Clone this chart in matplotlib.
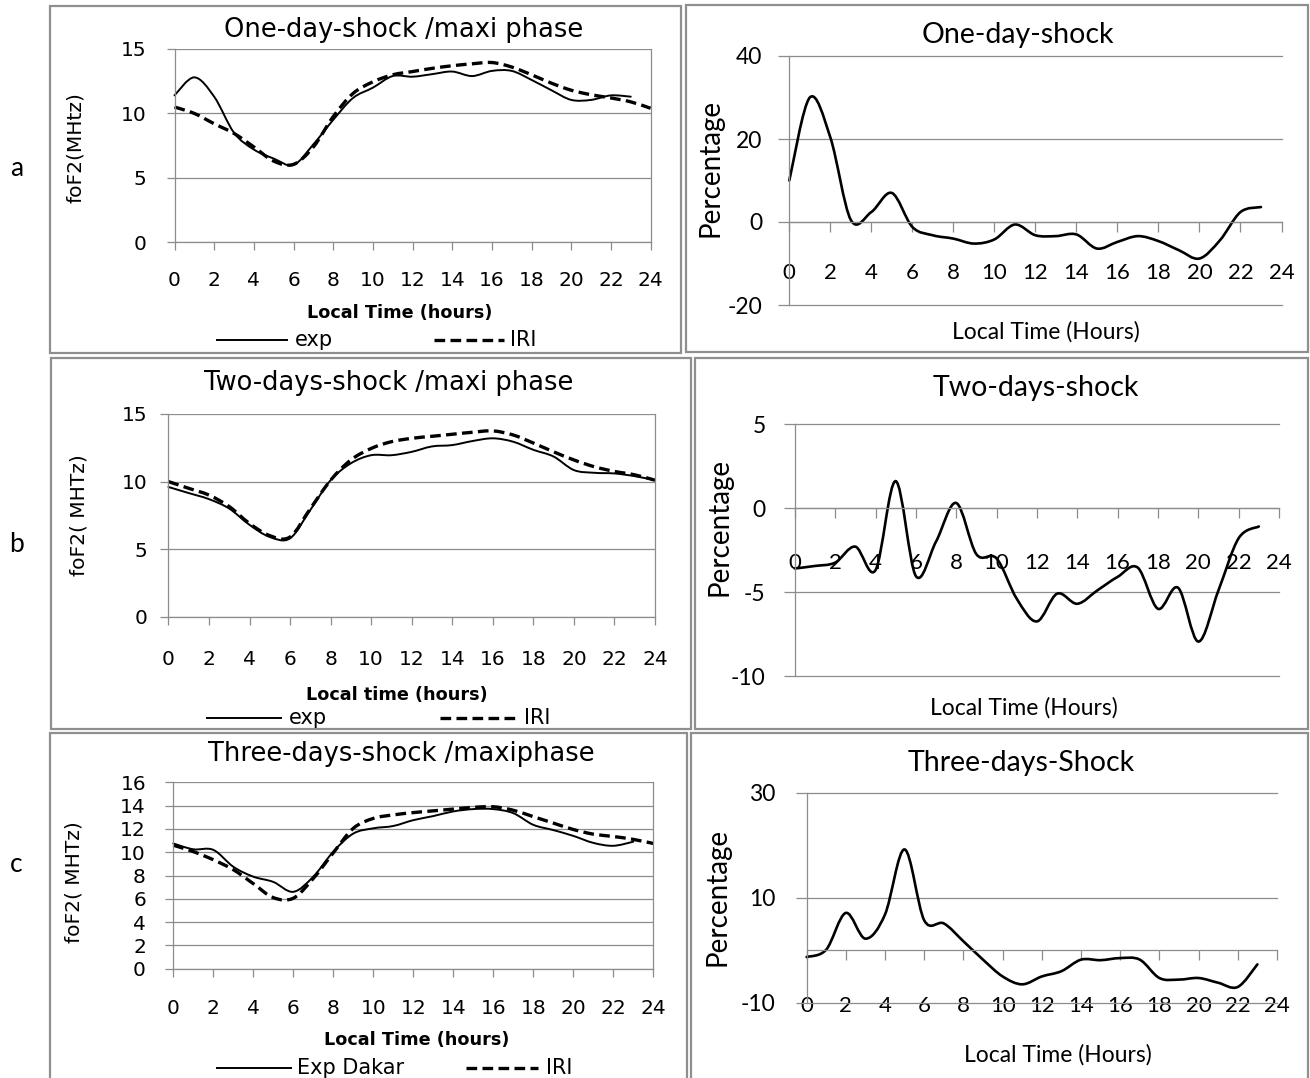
import numpy as np
import matplotlib
matplotlib.use("Agg")
import matplotlib.pyplot as plt
from matplotlib.path import Path
from matplotlib.patches import PathPatch, Rectangle
from matplotlib.lines import Line2D

plt.rcParams["axes.unicode_minus"] = False

# ---------------- data ----------------
hours_23 = list(range(24))
hours_24 = list(range(25))

a_exp = [11.4, 12.8, 11.3, 8.5, 7.2, 6.5, 6.0, 7.6, 9.5, 11.2, 12.0, 12.9, 12.85, 13.05,
         13.25, 12.9, 13.3, 13.3, 12.6, 11.8, 11.05, 11.05, 11.4, 11.3]
a_iri = [10.5, 10.0, 9.2, 8.45, 7.4, 6.3, 6.05, 7.4, 9.75, 11.55, 12.45, 13.0, 13.25, 13.5,
         13.7, 13.85, 13.95, 13.6, 13.0, 12.35, 11.8, 11.45, 11.2, 10.9, 10.4]
a_pct = [10, 30, 20.4, 0.5, 2.4, 7.0, -1.2, -3.2, -4.0, -5.2, -4.2, -0.6, -3.2, -3.4, -3.0,
         -6.4, -4.8, -3.4, -4.6, -6.8, -8.8, -4.4, 2.4, 3.6]

b_exp = [9.6, 9.15, 8.7, 8.0, 6.8, 5.9, 5.8, 7.9, 10.1, 11.35, 11.95, 11.95, 12.2, 12.6,
         12.7, 13.0, 13.2, 12.95, 12.35, 11.85, 10.85, 10.65, 10.6, 10.4, 10.1]
b_iri = [10.0, 9.5, 9.0, 8.15, 6.9, 6.0, 5.9, 8.0, 10.1, 11.6, 12.45, 12.95, 13.2, 13.35,
         13.5, 13.65, 13.75, 13.45, 12.85, 12.2, 11.6, 11.1, 10.75, 10.5, 10.1]
b_pct = [-3.6, -3.45, -3.25, -2.3, -3.7, 1.6, -4.05, -2.0, 0.3, -2.75, -3.0, -5.4, -6.75,
         -5.1, -5.7, -4.9, -4.1, -3.55, -6.0, -4.75, -7.95, -4.9, -1.8, -1.1]

c_exp = [10.75, 10.25, 10.2, 8.75, 7.9, 7.45, 6.6, 7.9, 10.05, 11.6, 12.05, 12.25, 12.75,
         13.1, 13.5, 13.7, 13.7, 13.35, 12.35, 11.9, 11.4, 10.8, 10.55, 10.9]
c_iri = [10.6, 10.05, 9.35, 8.5, 7.3, 6.1, 6.05, 7.75, 9.95, 12.05, 12.9, 13.2, 13.4, 13.55,
         13.7, 13.85, 13.9, 13.6, 13.05, 12.5, 11.95, 11.55, 11.35, 11.1, 10.75]
c_pct = [-1.3, 0.1, 7.1, 2.2, 6.8, 19.2, 5.7, 5.1, 1.7, -1.8, -5.0, -6.5, -5.0, -4.0, -1.8,
         -1.9, -1.5, -1.8, -5.3, -5.6, -5.3, -6.2, -7.0, -2.7]

x_ticks = list(range(0, 25, 2))
left_titles = ["One-day-shock /maxi phase", "Two-days-shock /maxi phase",
               "Three-days-shock /maxiphase"]
right_titles = ["One-day-shock", "Two-days-shock", "Three-days-Shock"]
left_ylabels = ["foF2(MHtz)", "foF2( MHTz)", "foF2( MHTz)"]
left_xlabels = ["Local Time (hours)", "Local time (hours)", "Local Time (hours)"]
right_xlabel = "Local Time (Hours)"
right_ylabel = "Percentage"
legend_exp = ["exp", "exp", "Exp Dakar"]
legend_iri = "IRI"
row_letters = ["a", "b", "c"]

# ---------------- figure ----------------
W, H = 1310, 1078
fig = plt.figure(figsize=(W / 100, H / 100), dpi=100)
FL = "DejaVu Sans"
FR = "Lato"
GRID = "#8c8c8c"
BORDER = "#8f8f8f"


def fx(x):
    return x / W


def fy(y):
    return 1 - y / H


def add_ax(x0, x1, ytop, ybot, vtop, vbot):
    ax = fig.add_axes([fx(x0), fy(ybot), (x1 - x0) / W, (ybot - ytop) / H])
    ax.set_xlim(0, 24)
    ax.set_ylim(vbot, vtop)
    ax.set_facecolor("none")
    return ax


def smooth(ax, x, y, **kw):
    pts = np.column_stack([np.asarray(x, float), np.asarray(y, float)])
    n = len(pts)
    verts = [pts[0]]
    codes = [Path.MOVETO]
    for i in range(n - 1):
        p0 = pts[i - 1] if i > 0 else pts[i]
        p1, p2 = pts[i], pts[i + 1]
        p3 = pts[i + 2] if i + 2 < n else pts[i + 1]
        verts += [p1 + (p2 - p0) / 6, p2 - (p3 - p1) / 6, p2]
        codes += [Path.CURVE4] * 3
    ax.add_patch(PathPatch(Path(verts, codes), fill=False, clip_on=False, **kw))


def border(x0, y0, x1, y1):
    fig.add_artist(Rectangle((fx(x0), fy(y1)), (x1 - x0) / W, (y1 - y0) / H,
                             transform=fig.transFigure, fill=False,
                             ec=BORDER, lw=1.6))


# panel borders
border(50, 6, 681, 353)
border(686, 5, 1308, 352)
border(51, 358, 691, 729)
border(695, 358, 1308, 729)
border(50, 733, 687, 1090)
border(691, 733, 1308, 1090)

# ---------------- left panels ----------------
left_geo = [
    dict(x0=174.5, x1=650.6, yt=49, yb=242.3, vt=15, step=5, lab=278,
         title=(403.6, 30), xl=(399.5, 313.3), yl=(76, 148), ygap=26,
         leg=340, sol=(216.7, 287), sx=295, das=(433.7, 504), dx=510),
    dict(x0=168.4, x1=655, yt=414, yb=616.7, vt=15, step=5, lab=656.7,
         title=(388.8, 383.3), xl=(397, 695), yl=(78.6, 515), ygap=19,
         leg=718, sol=(207, 280.6), sx=289, das=(440, 517), dx=523.5),
    dict(x0=173.3, x1=653.3, yt=782.3, yb=968.7, vt=16, step=2, lab=1006,
         title=(401.8, 754), xl=(416.5, 1040), yl=(74.5, 881.7), ygap=25,
         leg=1068.3, sol=(217, 291), sx=297, das=(466, 538), dx=546),
]
left_exp_data = [(hours_23, a_exp), (hours_24, b_exp), (hours_23, c_exp)]
left_iri_data = [a_iri, b_iri, c_iri]

for i, g in enumerate(left_geo):
    ax = add_ax(g["x0"], g["x1"], g["yt"], g["yb"], g["vt"], 0)
    yt = list(range(0, g["vt"] + 1, g["step"]))
    ax.set_yticks(yt)
    ax.set_xticks(x_ticks)
    ax.grid(axis="y", color=GRID, lw=0.9)
    ax.set_axisbelow(True)
    for s in ["left", "right", "bottom", "top"]:
        ax.spines[s].set_color(GRID)
        ax.spines[s].set_linewidth(0.9)
    ax.spines["top"].set_visible(False)
    ax.tick_params(axis="both", colors=GRID, length=6, width=0.9, direction="out")
    ax.tick_params(axis="x", labelcolor="black", labelsize=14.5, pad=(g["lab"] - g["yb"] - 6) * 0.72)
    ax.tick_params(axis="y", labelcolor="black", labelsize=14.5, pad=(g["ygap"] - 6) * 0.72)
    for lab in ax.get_xticklabels():
        lab.set_fontfamily(FL)
        lab.set_va("center")
    for lab in ax.get_yticklabels():
        lab.set_fontfamily(FL)
    xe, ye = left_exp_data[i]
    smooth(ax, xe, ye, ec="black", lw=1.4, capstyle="round", joinstyle="round")
    smooth(ax, hours_24, left_iri_data[i], ec="black", lw=2.4,
           linestyle=(0, (3.2, 1.6)))

    fig.text(fx(g["title"][0]), fy(g["title"][1]), left_titles[i], ha="center",
             va="center", fontsize=18.5, family=FL)
    fig.text(fx(g["xl"][0]), fy(g["xl"][1]), left_xlabels[i], ha="center",
             va="center", fontsize=12.7, family=FL, weight="bold")
    fig.text(fx(g["yl"][0]), fy(g["yl"][1]), left_ylabels[i], ha="center",
             va="center", fontsize=14.5, family=FL, rotation=90)
    # legend
    ly = fy(g["leg"])
    fig.add_artist(Line2D([fx(g["sol"][0]), fx(g["sol"][1])], [ly, ly], color="black",
                          lw=1.4, transform=fig.transFigure))
    fig.add_artist(Line2D([fx(g["das"][0]), fx(g["das"][1])], [ly, ly], color="black",
                          lw=2.4, linestyle=(0, (3.2, 1.6)), transform=fig.transFigure))
    fig.text(fx(g["sx"]), ly, legend_exp[i], ha="left", va="center", fontsize=15, family=FL)
    fig.text(fx(g["dx"]), ly, legend_iri, ha="left", va="center", fontsize=15, family=FL)

# ---------------- right panels ----------------
right_geo = [
    dict(x0=789.3, x1=1281.5, yt=56, yb=305, vt=40, vb=-20, ticks=[-20, 0, 20, 40],
         lab=270.7, title=(1017.5, 35), xl=(1046, 331.7), yl=(710, 167.5), ygap=24),
    dict(x0=794.8, x1=1279, yt=424, yb=676, vt=5, vb=-10, ticks=[-10, -5, 0, 5],
         lab=560, title=(1036, 388.3), xl=(1024, 708.3), yl=(719.7, 526.7), ygap=26),
    dict(x0=806.6, x1=1277, yt=792.7, yb=1002.7, vt=30, vb=-10, ticks=[-10, 10, 30],
         lab=1003, title=(1021, 763.3), xl=(1057.7, 1055), yl=(717.7, 896.7), ygap=28),
]
right_data = [a_pct, b_pct, c_pct]

for i, g in enumerate(right_geo):
    ax = add_ax(g["x0"], g["x1"], g["yt"], g["yb"], g["vt"], g["vb"])
    ax.set_yticks(g["ticks"])
    ax.set_xticks(x_ticks)
    ax.grid(axis="y", color=GRID, lw=0.9, clip_on=False)
    ax.set_axisbelow(True)
    ax.spines["right"].set_visible(False)
    ax.spines["top"].set_visible(False)
    ax.spines["left"].set_color(GRID)
    ax.spines["left"].set_linewidth(0.9)
    ax.spines["bottom"].set_position(("data", 0))
    ax.spines["bottom"].set_color(GRID)
    ax.spines["bottom"].set_linewidth(0.9)
    zero_px = g["yt"] + (g["vt"] - 0) / (g["vt"] - g["vb"]) * (g["yb"] - g["yt"])
    ax.tick_params(axis="both", colors=GRID, width=0.9, direction="out")
    ax.tick_params(axis="x", length=7, labelcolor="black", labelsize=16,
                   pad=(g["lab"] - zero_px - 7) * 0.72)
    ax.tick_params(axis="y", length=8, labelcolor="black", labelsize=16.5,
                   pad=(g["ygap"] - 8) * 0.72)
    for lab in ax.get_xticklabels():
        lab.set_fontfamily(FR)
        lab.set_va("center")
    for lab in ax.get_yticklabels():
        lab.set_fontfamily(FR)
    smooth(ax, hours_23, right_data[i], ec="black", lw=1.9, capstyle="round",
           joinstyle="round")
    fig.text(fx(g["title"][0]), fy(g["title"][1]), right_titles[i], ha="center",
             va="center", fontsize=20.5, family=FR)
    fig.text(fx(g["xl"][0]), fy(g["xl"][1]), right_xlabel, ha="center",
             va="center", fontsize=16.5, family=FR)
    fig.text(fx(g["yl"][0]), fy(g["yl"][1]), right_ylabel, ha="center",
             va="center", fontsize=20, family=FR, rotation=90)

# row letters
for letter, y in zip(row_letters, [168, 545, 865]):
    fig.text(fx(16.5), fy(y), letter, ha="center", va="center", fontsize=19, family=FR)

fig.savefig("out.png", dpi=100)
